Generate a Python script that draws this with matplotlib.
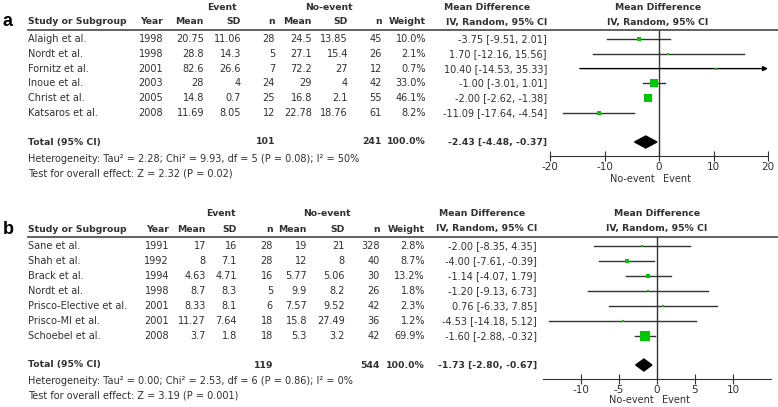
import numpy as np
import matplotlib
matplotlib.use('Agg')
import matplotlib.pyplot as plt
from matplotlib.patches import Polygon

W, H = 778, 407

# ---------------- panel a data ----------------
a_study = ['Alaigh et al.', 'Nordt et al.', 'Fornitz et al.', 'Inoue et al.', 'Christ et al.', 'Katsaros et al.']
a_year = [1998, 1998, 2001, 2003, 2005, 2008]
a_ev_mean = [20.75, 28.8, 82.6, 28, 14.8, 11.69]
a_ev_sd = [11.06, 14.3, 26.6, 4, 0.7, 8.05]
a_ev_n = [28, 5, 7, 24, 25, 12]
a_ne_mean = [24.5, 27.1, 72.2, 29, 16.8, 22.78]
a_ne_sd = [13.85, 15.4, 27, 4, 2.1, 18.76]
a_ne_n = [45, 26, 12, 42, 55, 61]
a_weight = [10.0, 2.1, 0.7, 33.0, 46.1, 8.2]
a_md = [-3.75, 1.70, 10.40, -1.00, -2.00, -11.09]
a_lo = [-9.51, -12.16, -14.53, -3.01, -2.62, -17.64]
a_hi = [2.01, 15.56, 35.33, 1.01, -1.38, -4.54]
a_tot_n = [101, 241]
a_tot_md = [-2.43, -4.48, -0.37]
a_het = 'Heterogeneity: Tau² = 2.28; Chi² = 9.93, df = 5 (P = 0.08); I² = 50%'
a_test = 'Test for overall effect: Z = 2.32 (P = 0.02)'
a_ticks = [-20, -10, 0, 10, 20]

# ---------------- panel b data ----------------
b_study = ['Sane et al.', 'Shah et al.', 'Brack et al.', 'Nordt et al.', 'Prisco-Elective et al.',
           'Prisco-MI et al.', 'Schoebel et al.']
b_year = [1991, 1992, 1994, 1998, 2001, 2001, 2008]
b_ev_mean = [17, 8, 4.63, 8.7, 8.33, 11.27, 3.7]
b_ev_sd = [16, 7.1, 4.71, 8.3, 8.1, 7.64, 1.8]
b_ev_n = [28, 28, 16, 5, 6, 18, 18]
b_ne_mean = [19, 12, 5.77, 9.9, 7.57, 15.8, 5.3]
b_ne_sd = [21, 8, 5.06, 8.2, 9.52, 27.49, 3.2]
b_ne_n = [328, 40, 30, 26, 42, 36, 42]
b_weight = [2.8, 8.7, 13.2, 1.8, 2.3, 1.2, 69.9]
b_md = [-2.00, -4.00, -1.14, -1.20, 0.76, -4.53, -1.60]
b_lo = [-8.35, -7.61, -4.07, -9.13, -6.33, -14.18, -2.88]
b_hi = [4.35, -0.39, 1.79, 6.73, 7.85, 5.12, -0.32]
b_tot_n = [119, 544]
b_tot_md = [-1.73, -2.80, -0.67]
b_het = 'Heterogeneity: Tau² = 0.00; Chi² = 2.53, df = 6 (P = 0.86); I² = 0%'
b_test = 'Test for overall effect: Z = 3.19 (P = 0.001)'
b_ticks = [-10, -5, 0, 5, 10]

FS = 7
FSB = 6.7
TXT = '#303030'
GREEN = '#00c800'
LINE = '#333333'

fig = plt.figure(figsize=(W / 100, H / 100), dpi=100)
ax0 = fig.add_axes([0, 0, 1, 1])
ax0.set_xlim(0, W)
ax0.set_ylim(H, 0)
ax0.axis('off')


def fmt(v):
    return f'{v:g}'


def ci_str(md, lo, hi):
    return f'{md:.2f} [{lo:.2f}, {hi:.2f}]'


def panel(letter, L, study, year, evm, evs, evn, nem, nes, nen, wt, md, lo, hi,
          tot_n, tot_md, het, test, ticks, xlim):
    def t(x, y, s, **kw):
        ax0.text(x, y, s, fontsize=kw.pop('fs', FS), color=kw.pop('c', TXT), va='center', **kw)

    def tb(x, y, s, **kw):
        t(x, y, s, fs=FSB, fontweight='bold', **kw)

    ax0.text(3, L['head'], letter, fontsize=13, fontweight='bold', va='center',
             family='Liberation Sans')
    # header
    tb(L['event'], L['group'], 'Event', ha='center')
    tb(L['noevent'], L['group'], 'No-event', ha='center')
    tb(L['mdhead'], L['group'], 'Mean Difference', ha='center')
    tb(L['zero'], L['group'], 'Mean Difference', ha='center')
    tb(28, L['head'], 'Study or Subgroup', ha='left')
    heads = ['Year', 'Mean', 'SD', 'n', 'Mean', 'SD', 'n', 'Weight', 'IV, Random, 95% CI']
    for x, h in zip(L['cols'], heads):
        tb(x, L['head'], h, ha='right')
    tb(L['zero'], L['head'], 'IV, Random, 95% CI', ha='center')
    ax0.plot([28, W], [L['line'], L['line']], color='#555555', lw=1.3)

    rows = L['y0'] + L['dy'] * np.arange(len(study))
    for i, y in enumerate(rows):
        t(28, y, study[i], ha='left')
        vals = [str(year[i]), fmt(evm[i]), fmt(evs[i]), str(evn[i]), fmt(nem[i]), fmt(nes[i]),
                str(nen[i]), f'{wt[i]:.1f}%', ci_str(md[i], lo[i], hi[i])]
        for x, v in zip(L['cols'], vals):
            t(x, y, v, ha='right')
    # total
    tb(28, L['total'], 'Total (95% CI)', ha='left')
    tb(L['cols'][3], L['total'], str(tot_n[0]), ha='right')
    tb(L['cols'][6], L['total'], str(tot_n[1]), ha='right')
    tb(L['cols'][7], L['total'], '100.0%', ha='right')
    tb(L['cols'][8], L['total'], ci_str(*tot_md), ha='right')
    t(28, L['het'], het, ha='left')
    t(28, L['test'], test, ha='left')

    # forest plot
    x0, x1 = L['fx']
    ax = fig.add_axes([x0 / W, 1 - L['axis'] / H, (x1 - x0) / W, (L['axis'] - L['line']) / H])
    ax.set_xlim(*xlim)
    ax.set_ylim(L['axis'], L['line'])
    ax.patch.set_alpha(0)
    for s in ['top', 'left', 'right']:
        ax.spines[s].set_visible(False)
    ax.spines['bottom'].set_color(LINE)
    ax.set_yticks([])
    ax.set_xticks(ticks)
    ax.set_xticklabels([str(v) for v in ticks])
    ax.tick_params(axis='x', direction='inout', length=7, labelsize=FS + 0.5, colors=TXT,
                   pad=1)
    ax.axvline(0, color=LINE, lw=1)
    for i, y in enumerate(rows):
        if hi[i] > xlim[1]:
            ax.annotate('', xy=(xlim[1], y), xytext=(lo[i], y),
                        arrowprops=dict(arrowstyle='-|>', color='black', lw=1,
                                        mutation_scale=7, shrinkA=0, shrinkB=0))
        else:
            ax.plot([lo[i], hi[i]], [y, y], color=LINE, lw=1)
        side = max(1.25 * np.sqrt(wt[i]), 2.2) * 0.72
        ax.scatter([md[i]], [y], marker='s', s=side ** 2, color=GREEN, zorder=3, linewidths=0)
    yt = L['total']
    m, l, h = tot_md
    ax.add_patch(Polygon([(l, yt), (m, yt - 6), (h, yt), (m, yt + 6)], closed=True,
                         color='black', zorder=3))
    t(L['zero'] - 3, L['lab'], 'No-event', ha='right')
    t(L['zero'] + 5, L['lab'], 'Event', ha='left')


La = dict(group=7, head=22, line=30, y0=39, dy=14.8, total=142, het=159, test=173,
          axis=156, lab=179, event=222, noevent=329, mdhead=487, zero=658,
          cols=[163, 204, 241, 275, 312, 348, 382, 426, 547], fx=(550, 768))
Lb = dict(group=214, head=229, line=237, y0=246, dy=15, total=365, het=381, test=395,
          axis=379, lab=400, event=221, noevent=327, mdhead=482, zero=657,
          cols=[169, 206, 237, 273, 307, 345, 380, 425, 537], fx=(543, 771))

panel('a', La, a_study, a_year, a_ev_mean, a_ev_sd, a_ev_n, a_ne_mean, a_ne_sd, a_ne_n,
      a_weight, a_md, a_lo, a_hi, a_tot_n, a_tot_md, a_het, a_test, a_ticks, (-20, 20))
panel('b', Lb, b_study, b_year, b_ev_mean, b_ev_sd, b_ev_n, b_ne_mean, b_ne_sd, b_ne_n,
      b_weight, b_md, b_lo, b_hi, b_tot_n, b_tot_md, b_het, b_test, b_ticks, (-15, 15))

fig.savefig('out.png', dpi=100)
